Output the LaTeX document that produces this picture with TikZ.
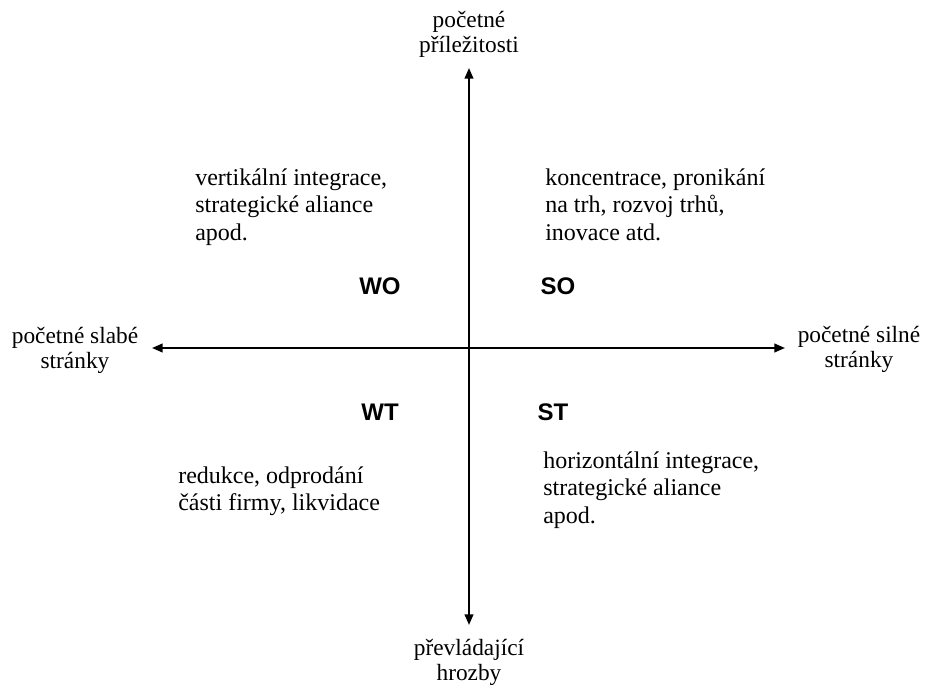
\documentclass[tikz,border=0pt]{standalone}
\usepackage{fontspec}
\setmainfont{Liberation Serif}
\setsansfont{Liberation Sans}
\usetikzlibrary{arrows.meta}
\tikzset{
  axis/.style={line width=1.5pt, {Triangle[length=8pt,width=6.5pt]}-{Triangle[length=8pt,width=6.5pt]}},
  axislabel/.style={inner sep=0pt, anchor=base, font=\fontsize{17.5}{18.75}\selectfont},
  quadtext/.style={inner sep=0pt, anchor=base west, font=\fontsize{18}{20.8}\selectfont},
  quadname/.style={inner sep=0pt, anchor=base, font=\sffamily\bfseries\fontsize{18}{20}\selectfont}
}
\newcommand{\stack}[2][l]{\begin{tabular}[t]{@{}#1@{}}#2\end{tabular}}
\begin{document}
\begin{tikzpicture}[x=0.75pt, y=-0.75pt]
  \useasboundingbox (0,0) rectangle (925,685);

  % axes
  \coordinate (origin) at (469,348);
  \coordinate (top) at (469,68);
  \coordinate (bottom) at (469,625);
  \coordinate (left) at (152,348);
  \coordinate (right) at (785,348);
  \draw[axis] (bottom) -- (top);
  \draw[axis] (left) -- (right);

  % axis labels
  \node[axislabel] (lblO) at (469,28) {\stack[c]{početné\\příležitosti}};
  \node[axislabel] (lblT) at (469,655) {\stack[c]{převládající\\hrozby}};
  \node[axislabel] (lblW) at (75,343) {\stack[c]{početné slabé\\stránky}};
  \node[axislabel] (lblS) at (859,342) {\stack[c]{početné silné\\stránky}};

  % quadrant names
  \node[quadname] (WO) at (380,294) {WO};
  \node[quadname] (SO) at (558,294) {SO};
  \node[quadname] (WT) at (380,420) {WT};
  \node[quadname] (ST) at (553,420) {ST};

  % strategies
  \node[quadtext] (stWO) at (195,185) {\stack{vertikální integrace,\\strategické aliance\\apod.}};
  \node[quadtext] (stSO) at (545,185) {\stack{koncentrace, pronikání\\na trh, rozvoj trhů,\\inovace atd.}};
  \node[quadtext] (stWT) at (178,483) {\stack{redukce, odprodání\\části firmy, likvidace}};
  \node[quadtext] (stST) at (543,468) {\stack{horizontální integrace,\\strategické aliance\\apod.}};
\end{tikzpicture}
\end{document}
